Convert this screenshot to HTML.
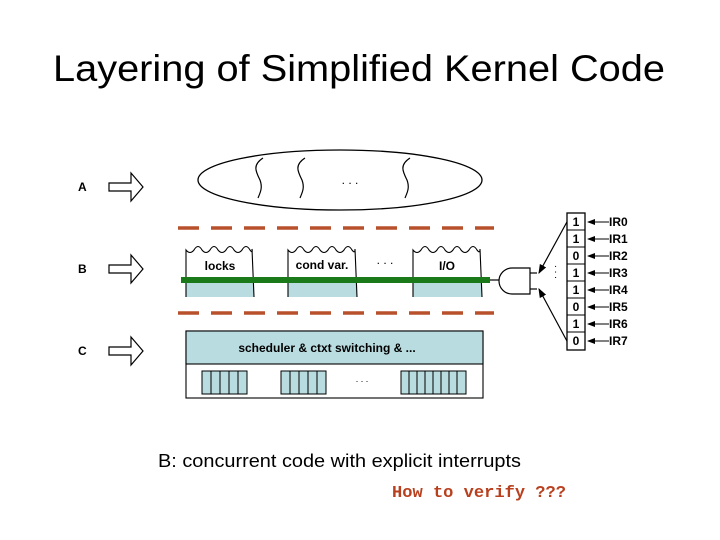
<!DOCTYPE html>
<html><head><meta charset="utf-8"><style>
html,body{margin:0;padding:0;background:#fff;width:720px;height:540px;overflow:hidden}
svg{display:block}
text{font-family:"Liberation Sans",Arial,sans-serif}
</style></head><body>
<svg width="720" height="540" viewBox="0 0 720 540" xmlns="http://www.w3.org/2000/svg">
<defs>
<marker id="ah" markerWidth="8" markerHeight="6" refX="7" refY="3" orient="auto"><path d="M0,0 L8,3 L0,6 z" fill="#000"/></marker>
</defs>
<text x="359" y="81" font-size="37" text-anchor="middle" textLength="612" lengthAdjust="spacingAndGlyphs">Layering of Simplified Kernel Code</text>

<!-- labels A B C -->
<g font-size="12" font-weight="bold">
<text x="78" y="191">A</text><text x="78" y="273">B</text><text x="78" y="355">C</text>
</g>
<g fill="#fff" stroke="#000" stroke-width="1.2">
<path d="M109,183 L131,183 L131,173 L143,187 L131,201 L131,191 L109,191 z"/>
<path d="M109,265 L131,265 L131,255 L143,269 L131,283 L131,273 L109,273 z"/>
<path d="M109,347 L131,347 L131,337 L143,351 L131,365 L131,355 L109,355 z"/>
</g>

<!-- ellipse with threads -->
<ellipse cx="340" cy="180" rx="142" ry="30" fill="#fff" stroke="#000" stroke-width="1.3"/>
<g fill="none" stroke="#000" stroke-width="1.2">
<path d="M263,158 C252,165 256,172 260,180 C263,188 260,193 258,198"/>
<path d="M305,158 C294,165 298,172 302,180 C305,188 302,193 300,198"/>
<path d="M410,158 C399,165 403,172 407,180 C410,188 407,193 405,198"/>
</g>
<text x="350" y="184" font-size="12" text-anchor="middle">. . .</text>

<!-- dashes -->
<line x1="178" y1="228" x2="494" y2="228" stroke="#b8502c" stroke-width="3.5" stroke-dasharray="21 12"/>
<line x1="178" y1="313" x2="494" y2="313" stroke="#b8502c" stroke-width="3.5" stroke-dasharray="21 12"/>

<!-- B boxes -->
<g stroke="#000" stroke-width="1">
<rect x="186" y="281" width="68" height="16" fill="#b9dce0" stroke="none"/>
<rect x="288" y="281" width="69" height="16" fill="#b9dce0" stroke="none"/>
<rect x="413" y="281" width="69" height="16" fill="#b9dce0" stroke="none"/>
</g>
<g fill="none" stroke="#000" stroke-width="1.1">
<path d="M186,297 L186,250 q4,5 8,0 q4,-7 8,0 q4,5 8,0 q4,-7 8,0 q4,5 8,0 q4,-7 8,0 q4,5 8,0 q4,-7 8,0 q3,4 2,-1 L254,297"/>
<path d="M288,297 L288,250 q4,5 8,0 q4,-7 8,0 q4,5 8,0 q4,-7 8,0 q4,5 8,0 q4,-7 8,0 q4,5 8,0 q4,-7 8,0 q3,4 3,-1 L357,297"/>
<path d="M413,297 L413,250 q4,5 8,0 q4,-7 8,0 q4,5 8,0 q4,-7 8,0 q4,5 8,0 q4,-7 8,0 q4,5 8,0 q4,-7 8,0 q3,4 3,-1 L482,297"/>
</g>
<g font-size="12" font-weight="bold" text-anchor="middle">
<text x="220" y="270">locks</text>
<text x="322" y="269">cond var.</text>
<text x="447" y="270">I/O</text>
</g>
<text x="385" y="264" font-size="12" text-anchor="middle">. . .</text>
<rect x="181" y="277" width="309" height="6" fill="#1a7a1a"/>

<!-- gate -->
<g fill="none" stroke="#000" stroke-width="1.2">
<line x1="490" y1="280" x2="499" y2="280"/>
<path d="M512,268 L530,268 L530,294 L512,294 A13,13 0 0 1 512,268 z"/>
<line x1="530" y1="273" x2="537" y2="273"/>
<line x1="530" y1="289" x2="537" y2="289"/>
<line x1="568" y1="220" x2="539" y2="273" marker-end="url(#ah)"/>
<line x1="568" y1="343" x2="539" y2="289" marker-end="url(#ah)"/>
</g>
<text x="555" y="272" font-size="10" text-anchor="middle" transform="rotate(90 555 272)">. . .</text>

<!-- register -->
<g stroke="#000" stroke-width="1.3" fill="#fff">
<rect x="567" y="213" width="18" height="137"/>
</g>
<g stroke="#000" stroke-width="1.1">
<line x1="567" y1="230" x2="585" y2="230"/><line x1="567" y1="247" x2="585" y2="247"/>
<line x1="567" y1="264" x2="585" y2="264"/><line x1="567" y1="281" x2="585" y2="281"/>
<line x1="567" y1="298" x2="585" y2="298"/><line x1="567" y1="315" x2="585" y2="315"/>
<line x1="567" y1="332" x2="585" y2="332"/>
</g>
<g font-size="12" font-weight="bold" text-anchor="middle">
<text x="576" y="226">1</text><text x="576" y="243">1</text><text x="576" y="260">0</text>
<text x="576" y="277">1</text><text x="576" y="294">1</text><text x="576" y="311">0</text>
<text x="576" y="328">1</text><text x="576" y="345">0</text>
</g>
<g stroke="#000" stroke-width="1">
<line x1="609" y1="222" x2="588" y2="222" marker-end="url(#ah)"/>
<line x1="609" y1="239" x2="588" y2="239" marker-end="url(#ah)"/>
<line x1="609" y1="256" x2="588" y2="256" marker-end="url(#ah)"/>
<line x1="609" y1="273" x2="588" y2="273" marker-end="url(#ah)"/>
<line x1="609" y1="290" x2="588" y2="290" marker-end="url(#ah)"/>
<line x1="609" y1="307" x2="588" y2="307" marker-end="url(#ah)"/>
<line x1="609" y1="324" x2="588" y2="324" marker-end="url(#ah)"/>
<line x1="609" y1="341" x2="588" y2="341" marker-end="url(#ah)"/>
</g>
<g font-size="12" font-weight="bold">
<text x="609" y="226">IR0</text><text x="609" y="243">IR1</text><text x="609" y="260">IR2</text>
<text x="609" y="277">IR3</text><text x="609" y="294">IR4</text><text x="609" y="311">IR5</text>
<text x="609" y="328">IR6</text><text x="609" y="345">IR7</text>
</g>

<!-- scheduler -->
<rect x="186" y="331" width="297" height="67" fill="#fff" stroke="#000" stroke-width="1.1"/>
<rect x="186" y="331" width="297" height="33" fill="#b9dce0" stroke="#000" stroke-width="1.1"/>
<text x="327" y="352" font-size="12" font-weight="bold" text-anchor="middle">scheduler  &amp;  ctxt switching  &amp;  ...</text>
<g fill="#b9dce0" stroke="#000" stroke-width="1">
<rect x="202" y="371" width="45" height="23"/>
<rect x="281" y="371" width="45" height="23"/>
<rect x="401" y="371" width="65" height="23"/>
</g>
<g stroke="#000" stroke-width="1">
<line x1="211" y1="371" x2="211" y2="394"/><line x1="220" y1="371" x2="220" y2="394"/><line x1="229" y1="371" x2="229" y2="394"/><line x1="238" y1="371" x2="238" y2="394"/>
<line x1="290" y1="371" x2="290" y2="394"/><line x1="299" y1="371" x2="299" y2="394"/><line x1="308" y1="371" x2="308" y2="394"/><line x1="317" y1="371" x2="317" y2="394"/>
<line x1="409" y1="371" x2="409" y2="394"/><line x1="417" y1="371" x2="417" y2="394"/><line x1="425" y1="371" x2="425" y2="394"/><line x1="433" y1="371" x2="433" y2="394"/><line x1="441" y1="371" x2="441" y2="394"/><line x1="449" y1="371" x2="449" y2="394"/><line x1="457" y1="371" x2="457" y2="394"/>
</g>
<text x="362" y="382" font-size="9" text-anchor="middle">. . .</text>

<text x="158" y="467" font-size="18" textLength="363" lengthAdjust="spacingAndGlyphs">B: concurrent code with explicit interrupts</text>
<text x="392" y="497" font-size="17" font-weight="bold" fill="#b8401e" font-family="Liberation Mono, monospace" textLength="174" lengthAdjust="spacingAndGlyphs" style="font-family:'Liberation Mono',monospace">How to verify ???</text>
</svg>
</body></html>
